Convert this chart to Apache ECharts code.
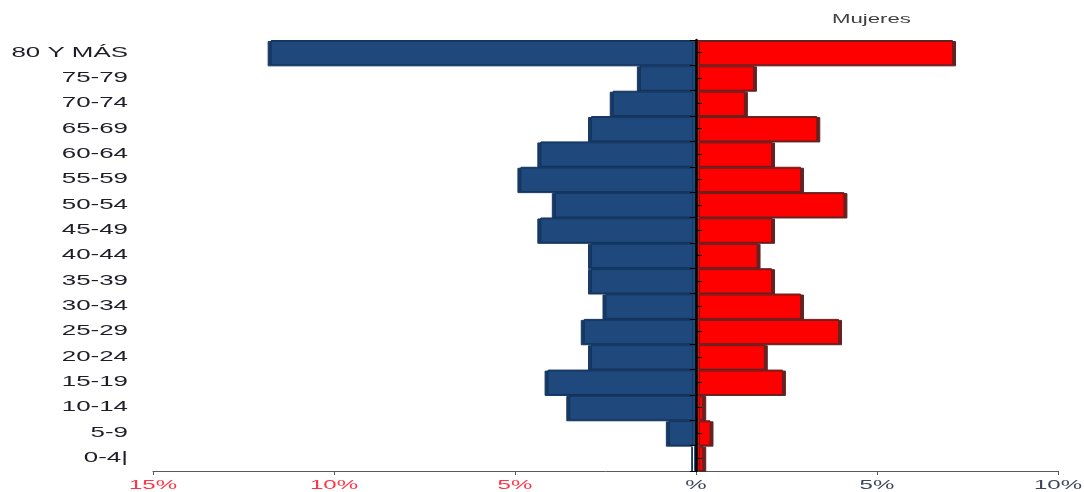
<!DOCTYPE html>
<html>
<head>
<meta charset="utf-8">
<script src="https://cdn.jsdelivr.net/npm/echarts@6/dist/echarts.min.js"></script>
<style>
  html, body { margin: 0; padding: 0; background: #ffffff; }
  #chart { width: 1084px; height: 492px; }
</style>
</head>
<body>
<div id="chart"></div>
<script>
// Age groups, top to bottom
const ageGroups = ['80 Y MÁS', '75-79', '70-74', '65-69', '60-64', '55-59', '50-54', '45-49',
  '40-44', '35-39', '30-34', '25-29', '20-24', '15-19', '10-14', '5-9', '0-4|'];

// Share of population (%) per age group
const hombres = [11.75, 1.55, 2.3, 2.9, 4.3, 4.85, 3.9, 4.3, 2.9, 2.9, 2.5, 3.1, 2.9, 4.1, 3.5, 0.75, 0.05];
const mujeres = [7.1, 1.6, 1.35, 3.35, 2.1, 2.9, 4.1, 2.1, 1.7, 2.1, 2.9, 3.95, 1.9, 2.4, 0.2, 0.4, 0.2];

// Horizontal axis ticks and their labels
const xTickValues = [-15, -10, -5, 0, 5, 10];
const xTickLabels = ['15%', '10%', '5%', '%', '5%', '10%'];

const X_MIN = -15, X_MAX = 10;
const STRETCH = 1.85;       // wide lettering used across the chart
const FONT = '"Liberation Sans", Arial, sans-serif';

const GRID = { left: 153, right: 26, top: 40, bottom: 21 };
const CHART_W = 1084;
// distance from the grid's left edge to the zero line
const zeroShift = (CHART_W - GRID.left - GRID.right) * (0 - X_MIN) / (X_MAX - X_MIN);

const chart = echarts.init(document.getElementById('chart'));

const lastGroup = ageGroups[ageGroups.length - 1];

chart.setOption({
  animation: false,
  grid: Object.assign({ containLabel: false }, GRID),
  xAxis: {
    type: 'value',
    min: X_MIN, max: X_MAX, interval: 5,
    axisLine: { show: true, onZero: false, lineStyle: { color: '#595959', width: 1 } },
    axisTick: { show: true, length: 4, lineStyle: { color: '#595959' } },
    axisLabel: { show: false },
    splitLine: { show: false }
  },
  yAxis: [
    {
      // centre line with ticks on the group boundaries, pointing left
      type: 'category', data: ageGroups, inverse: true, position: 'left', z: 6,
      axisLine: { show: true, onZero: true, lineStyle: { color: '#000000', width: 2.5 } },
      axisTick: { show: true, inside: false, length: 6, lineStyle: { color: '#000000', width: 1 } },
      axisLabel: { show: false },
      splitLine: { show: false }
    },
    {
      // ticks at each group's middle, pointing right from the centre line
      type: 'category', data: ageGroups, inverse: true, position: 'left', z: 6,
      offset: -zeroShift,
      axisLine: { show: false, onZero: false },
      axisTick: { show: true, inside: true, alignWithLabel: true, length: 6, lineStyle: { color: '#000000', width: 1 } },
      axisLabel: { show: false },
      splitLine: { show: false }
    }
  ],
  graphic: [{
    type: 'text', x: 832, y: 20, scaleX: STRETCH, z: 10,
    style: { text: 'Mujeres', font: '12px ' + FONT, fill: '#404040', verticalAlign: 'middle' }
  }],
  series: [
    {
      name: 'Hombres', type: 'bar', yAxisIndex: 0,
      data: hombres.map(v => -v),
      barGap: '-100%', barCategoryGap: '0%',
      itemStyle: {
        color: '#1f497d', borderColor: '#15345c', borderWidth: 1,
        shadowColor: '#163a66', shadowOffsetX: -3, shadowOffsetY: 1, shadowBlur: 0
      }
    },
    {
      name: 'Mujeres', type: 'bar', yAxisIndex: 0,
      data: mujeres,
      barGap: '-100%', barCategoryGap: '0%',
      itemStyle: {
        color: '#ff0000', borderColor: '#6a2020', borderWidth: 1,
        shadowColor: '#652222', shadowOffsetX: 3, shadowOffsetY: 1, shadowBlur: 0
      }
    },
    {
      // age group labels, left of the plot
      type: 'custom', yAxisIndex: 0, silent: true, clip: false, z: 10,
      encode: { x: 0, y: 1 },
      data: ageGroups.map(g => [X_MIN, g]),
      renderItem: function (params, api) {
        const idx = api.value(1);
        const pt = api.coord([api.value(0), idx]);
        return {
          type: 'text', x: pt[0] - 25, y: pt[1], scaleX: STRETCH,
          style: {
            text: ageGroups[idx], font: '14px ' + FONT, fill: '#1e1e28',
            align: 'right', verticalAlign: 'middle'
          }
        };
      }
    },
    {
      // percentage labels under the horizontal axis
      type: 'custom', yAxisIndex: 0, silent: true, clip: false, z: 10,
      encode: { x: 0, y: 1 },
      data: xTickValues.map(v => [v, lastGroup]),
      renderItem: function (params, api) {
        const i = params.dataIndex;
        const v = api.value(0);
        const pt = api.coord([v, api.value(1)]);
        const cs = params.coordSys;
        return {
          type: 'text', x: pt[0], y: cs.y + cs.height + 14, scaleX: STRETCH,
          style: {
            text: xTickLabels[i], font: '13px ' + FONT,
            fill: v < 0 ? '#ff3344' : '#3d4656',
            align: 'center', verticalAlign: 'middle'
          }
        };
      }
    }
  ]
});
</script>
</body>
</html>
